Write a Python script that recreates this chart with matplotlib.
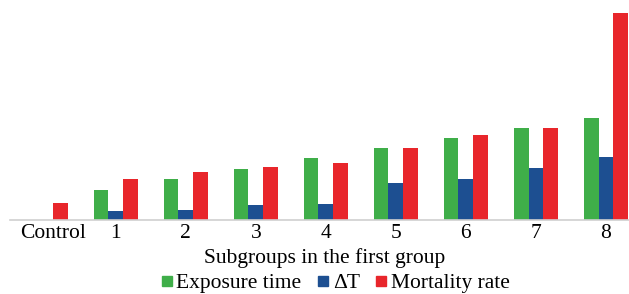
import numpy as np
import matplotlib.pyplot as plt
import matplotlib.transforms as mtransforms
from matplotlib.lines import Line2D

# Data (arbitrary units, same scale for all series).
categories = ["Control", "1", "2", "3", "4", "5", "6", "7", "8"]
exposureTime = [0, 30, 41, 51, 62, 72, 82, 92, 102]
deltaT = [0, 9, 10, 15, 16, 37, 41, 52, 63]
mortalityRate = [17, 41, 48, 53, 57, 72, 85, 92, 207]

colors = ["#3fae49", "#1d4f91", "#e8262b"]
labels = ["Exposure time", "\u0394T", "Mortality rate"]

plt.rcParams["font.family"] = ["Liberation Serif", "DejaVu Serif"]

fig = plt.figure(figsize=(6.29, 2.94), dpi=100)
ax = fig.add_axes([10 / 629, 1 - 219.5 / 294, 619 / 629, 219.5 / 294])

x = np.arange(len(categories))
w = 0.21
for i, series in enumerate([exposureTime, deltaT, mortalityRate]):
  ax.bar(x + (i - 1) * w, series, width=w, color=colors[i], zorder=2)

ax.set_xlim(-0.51, 8.33)
ax.set_ylim(0, 219.5)
ax.set_xticks(x)
ax.set_xticklabels(categories, fontsize=15.5)
ax.tick_params(axis="x", length=0, pad=3)
# The "Control" label sits a little right of its group in the reference.
shift = mtransforms.ScaledTranslation(7 / 100, 0, fig.dpi_scale_trans)
firstLabel = ax.get_xticklabels()[0]
firstLabel.set_transform(firstLabel.get_transform() + shift)
ax.set_yticks([])
for side in ["top", "right", "left"]:
  ax.spines[side].set_visible(False)
ax.spines["bottom"].set_color("#d0d0d0")
ax.spines["bottom"].set_linewidth(1.2)

fig.text(325 / 629, 1 - 258 / 294, "Subgroups in the first group",
         fontsize=15.5, ha="center", va="center")

handles = [Line2D([], [], marker="s", linestyle="none", markersize=6.5,
                  color=c) for c in colors]
fig.legend(handles, labels, loc="center", bbox_to_anchor=(334 / 629, 1 - 283 / 294),
           ncol=3, frameon=False, fontsize=15.5, handletextpad=0.05,
           columnspacing=0.6, handlelength=0.8, borderaxespad=0, borderpad=0)

plt.savefig("out.png", dpi=100)
